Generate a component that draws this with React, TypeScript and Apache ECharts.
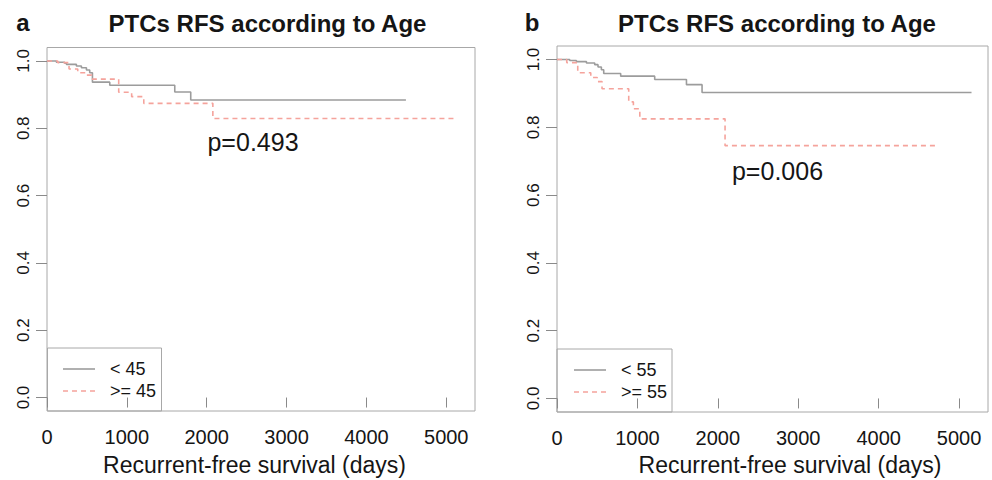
import React, { useEffect, useRef } from "react";
import * as echarts from "echarts";

// Panel a: age < 45 vs >= 45
const aYoungTimes = [0, 118, 222, 243, 368, 431, 494, 535, 569, 786, 1600, 1800, 4495];
const aYoungSurv = [1.0, 0.996, 0.993, 0.99, 0.985, 0.98, 0.973, 0.965, 0.937, 0.928, 0.908, 0.884, 0.884];
const aOldTimes = [0, 135, 276, 385, 485, 560, 898, 1060, 1212, 2077, 5110];
const aOldSurv = [1.0, 0.995, 0.976, 0.965, 0.958, 0.946, 0.907, 0.894, 0.874, 0.829, 0.829];

// Panel b: age < 55 vs >= 55
const bYoungTimes = [0, 158, 241, 366, 469, 510, 552, 581, 792, 1215, 1610, 1804, 5155];
const bYoungSurv = [1.0, 0.997, 0.994, 0.99, 0.985, 0.978, 0.97, 0.959, 0.951, 0.941, 0.926, 0.903, 0.903];
const bOldTimes = [0, 121, 258, 420, 500, 560, 892, 950, 1030, 2090, 4750];
const bOldSurv = [1.0, 0.991, 0.961, 0.947, 0.935, 0.914, 0.875, 0.855, 0.825, 0.746, 0.746];

const xTicks = [0, 1000, 2000, 3000, 4000, 5000];
const yTicks = [0, 0.2, 0.4, 0.6, 0.8, 1.0];

const title = "PTCs RFS according to Age";
const xTitle = "Recurrent-free survival (days)";
const pValues = ["p=0.493", "p=0.006"];
const legendA = ["< 45", ">= 45"];
const legendB = ["< 55", ">= 55"];

const FONT = '"Liberation Sans", Arial, Helvetica, sans-serif';
const GRAY = "#9c9c9c";
const PINK = "#f5a39c";
const BORDER = "#a8a8a8";
const TEXT = "#151515";

function pairs(t: number[], s: number[]) {
  return t.map((v, i) => [v, s[i]]);
}

export default function App() {
  const ref = useRef<HTMLDivElement>(null);
  useEffect(() => {
    if (!ref.current) return;
    const chart = echarts.init(ref.current, null, { renderer: "svg" });

    const grids = [
      { left: 47, top: 47.5, width: 428, height: 363.5 },
      { left: 557, top: 46, width: 431, height: 366 },
    ];

    const xAxisDef = (gi: number) => ({
      type: "value",
      gridIndex: gi,
      min: 0,
      max: 5360,
      axisLine: { show: false },
      splitLine: { show: false },
      axisTick: {
        show: true,
        length: 10,
        customValues: xTicks,
        lineStyle: { color: "#8a8a8a", width: 1 },
      },
      axisLabel: {
        customValues: xTicks,
        fontSize: 20,
        fontFamily: FONT,
        color: TEXT,
        margin: 16,
        formatter: (v: number) => String(Math.round(v)),
      },
    });
    const yAxisDef = (gi: number) => ({
      type: "value",
      gridIndex: gi,
      min: -0.04,
      max: 1.04,
      axisLine: { show: false },
      splitLine: { show: false },
      axisTick: {
        show: true,
        length: 11,
        customValues: yTicks,
        lineStyle: { color: "#8a8a8a", width: 1 },
      },
      axisLabel: {
        customValues: yTicks,
        rotate: 90,
        fontSize: 17,
        fontFamily: FONT,
        color: TEXT,
        margin: 15,
        formatter: (v: number) => v.toFixed(1),
      },
    });

    const solid = { color: GRAY, width: 1.6, type: "solid" };
    const dashed = { color: PINK, width: 1.6, type: [5, 4] };

    const mkSeries = (data: number[][], gi: number, ls: any) => ({
      type: "line",
      step: "end",
      xAxisIndex: gi,
      yAxisIndex: gi,
      symbol: "none",
      data,
      lineStyle: ls,
      itemStyle: { color: ls.color },
      silent: true,
    });

    const txt = (text: string, x: number, y: number, size: number, opts: any = {}) => ({
      type: "text",
      x,
      y,
      silent: true,
      style: {
        text,
        fill: TEXT,
        fontSize: size,
        fontFamily: FONT,
        fontWeight: opts.bold ? "bold" : "normal",
        textAlign: opts.align || "center",
        textVerticalAlign: "middle",
      },
    });

    const legend = (x: number, y: number, w: number, h: number, labels: string[], lx1: number, ly: number[], tx: number) => [
      {
        type: "rect",
        shape: { x, y, width: w, height: h },
        style: { fill: "none", stroke: BORDER, lineWidth: 1 },
        silent: true,
      },
      {
        type: "line",
        shape: { x1: lx1, y1: ly[0], x2: lx1 + 32, y2: ly[0] },
        style: { stroke: GRAY, lineWidth: 1.6 },
        silent: true,
      },
      {
        type: "line",
        shape: { x1: lx1, y1: ly[1], x2: lx1 + 32, y2: ly[1] },
        style: { stroke: PINK, lineWidth: 1.6, lineDash: [5, 4] },
        silent: true,
      },
      txt(labels[0], tx, ly[0], 18, { align: "left" }),
      txt(labels[1], tx, ly[1], 18, { align: "left" }),
    ];

    chart.setOption({
      animation: false,
      backgroundColor: "#ffffff",
      grid: grids.map((g) => ({
        ...g,
        show: true,
        borderColor: BORDER,
        borderWidth: 1,
        backgroundColor: "transparent",
        containLabel: false,
      })),
      xAxis: [xAxisDef(0), xAxisDef(1)],
      yAxis: [yAxisDef(0), yAxisDef(1)],
      series: [
        mkSeries(pairs(aYoungTimes, aYoungSurv), 0, solid),
        mkSeries(pairs(aOldTimes, aOldSurv), 0, dashed),
        mkSeries(pairs(bYoungTimes, bYoungSurv), 1, solid),
        mkSeries(pairs(bOldTimes, bOldSurv), 1, dashed),
      ],
      graphic: [
        txt("a", 23, 22, 24, { bold: true }),
        txt("b", 532, 22, 24, { bold: true }),
        txt(title, 267.5, 23, 24, { bold: true }),
        txt(title, 777, 23, 24, { bold: true }),
        txt(xTitle, 254.5, 465, 23),
        txt(xTitle, 790, 465, 23),
        txt(pValues[0], 253, 142, 25),
        txt(pValues[1], 777.5, 171, 25),
        ...legend(47.5, 348, 114, 63, legendA, 63, [369, 391], 110),
        ...legend(557, 349, 115, 63, legendB, 574, [370, 392], 621),
      ],
    });
    return () => chart.dispose();
  }, []);
  return (
    <div
      ref={ref}
      style={{ position: "fixed", left: 0, top: 0, width: 992, height: 480 }}
    />
  );
}
